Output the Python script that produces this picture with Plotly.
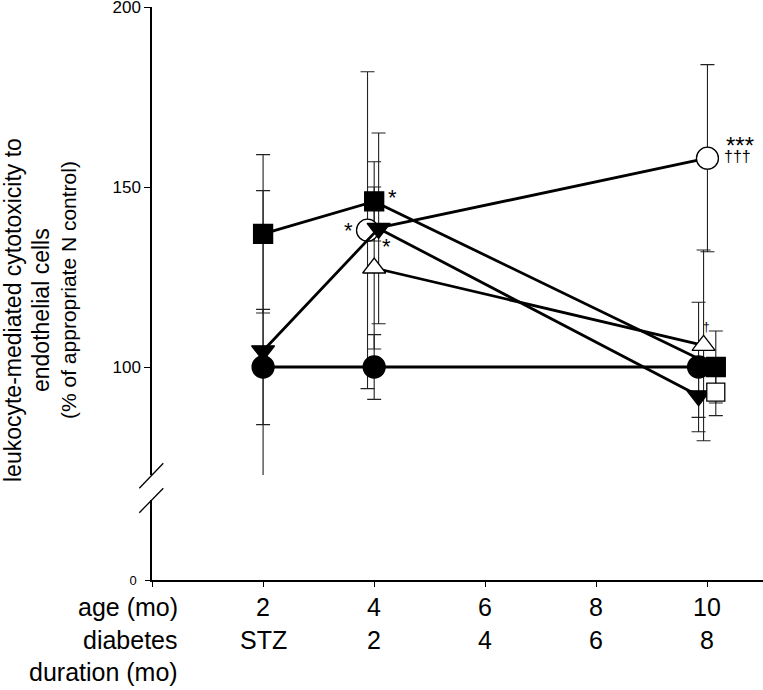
import plotly.graph_objects as go

# ---------------- data ----------------
ages = [2, 4, 10]
age_labels = ["2", "4", "6", "8", "10"]
age_ticks = [2, 4, 6, 8, 10]
duration_labels = ["STZ", "2", "4", "6", "8"]

# filled circle (N control)
nc_x = [2, 4, 10]
nc_y = [100, 100, 100]
nc_err = [16, 9, 18]
# filled square
fs_x = [2, 4, 10]
fs_y = [137, 146, 100]
fs_err = [22, 11, 10]
# filled triangle down
td_x = [2, 4, 10]
td_y = [104.5, 138.5, 92]
td_err = [44.5, 26.5, 6]
# open triangle up
tu_x = [4, 10]
tu_y = [127.5, 106]
tu_err = [22.5, 26.5]
# open circle
oc_x = [4, 10]
oc_y = [138, 158]
oc_err = [44, 26]
# open square
os_x = [10]
os_y = [93]
os_err = [6.5]

# ---------------- styles ----------------
FONT = "Liberation Sans, Arial, sans-serif"
W, H = 763, 690
ML, MR, MT, MB = 152, 0, 7, 110
PW, PH = W - ML - MR, H - MT - MB

# small horizontal offsets used in the original to separate overlapping symbols
offsets = {
    "nc": {2: 0, 4: 0, 10: -0.16},
    "fs": {2: 0, 4: 0, 10: 0.15},
    "td": {2: 0, 4: 0.08, 10: -0.16},
    "tu": {4: 0, 10: -0.07},
    "oc": {4: -0.12, 10: 0},
    "os": {10: 0.15},
}

series = [
    # key, x, y, err, symbol, fill, size
    ("oc", oc_x, oc_y, oc_err, "circle", "white", 22),
    ("nc", nc_x, nc_y, nc_err, "circle", "black", 22),
    ("fs", fs_x, fs_y, fs_err, "square", "black", 19),
    ("td", td_x, td_y, td_err, "triangle-down", "black", 20),
    ("tu", tu_x, tu_y, tu_err, "triangle-up", "white", 20),
    ("os", os_x, os_y, os_err, "square", "white", 18),
]


def px_to_px(px):
    return (px - ML) / PW


def py_to_py(py):
    return (H - MB - py) / PH


fig = go.Figure()

# invisible trace so that the lower (broken) axis segment exists
fig.add_trace(go.Scatter(x=[0], y=[0], xaxis="x", yaxis="y", mode="markers",
                         marker=dict(size=1, opacity=0), showlegend=False,
                         hoverinfo="skip"))

# error bars first (so markers sit on top)
for key, xs, ys, es, sym, fill, size in series:
    xx = [x + offsets[key][x] for x in xs]
    fig.add_trace(go.Scatter(
        x=xx, y=ys, mode="markers", yaxis="y2", xaxis="x",
        marker=dict(size=2, opacity=0),
        error_y=dict(type="data", array=es, symmetric=True, color="#222",
                     thickness=1.1, width=7),
        showlegend=False, hoverinfo="skip",
    ))

# lines + markers
for key, xs, ys, es, sym, fill, size in series:
    xx = [x + offsets[key][x] for x in xs]
    fig.add_trace(go.Scatter(
        x=xx, y=ys, mode="lines+markers", yaxis="y2", xaxis="x",
        line=dict(color="black", width=2.8),
        marker=dict(symbol=sym, size=size, color=fill,
                    line=dict(color="black", width=1.3)),
        showlegend=False,
    ))

annotations = []

# significance marks
def mark(text, key, xs, ys, i, dx, dy, size):
    x = xs[i] + offsets[key][xs[i]]
    annotations.append(dict(x=x, y=ys[i], xref="x", yref="y2", text=text,
                            showarrow=False, xshift=dx, yshift=dy,
                            font=dict(family=FONT, size=size, color="black")))

mark("*", "fs", fs_x, fs_y, 1, 18, 4, 22)
mark("*", "oc", oc_x, oc_y, 0, -19, 0, 22)
mark("*", "td", td_x, td_y, 1, 8, -18, 22)
mark("***", "oc", oc_x, oc_y, 1, 33, 13, 24)
mark("†††", "oc", oc_x, oc_y, 1, 30, 2, 16)
mark("†", "tu", tu_x, tu_y, 1, 3, 18, 12)

# x-axis row labels
row_y = [607, 640, 672]
for v, lab in zip(age_ticks, age_labels):
    annotations.append(dict(x=v, y=py_to_py(row_y[0]), xref="x", yref="paper",
                            text=lab, showarrow=False, yanchor="middle",
                            font=dict(family=FONT, size=25, color="black")))
for v, lab in zip(age_ticks, duration_labels):
    annotations.append(dict(x=v, y=py_to_py(row_y[1]), xref="x", yref="paper",
                            text=lab, showarrow=False, yanchor="middle",
                            font=dict(family=FONT, size=25, color="black")))
for txt, ry in [("age (mo)", row_y[0]), ("diabetes", row_y[1]), ("duration (mo)", row_y[2])]:
    annotations.append(dict(x=px_to_px(180), y=py_to_py(ry), xref="paper", yref="paper",
                            text=txt, showarrow=False, xanchor="right", yanchor="middle",
                            font=dict(family=FONT, size=25, color="black")))

# y-axis title (three lines)
for txt, xpx, ypx, fs in [
    ("leukocyte-mediated cytotoxicity to", 13, 310, 23),
    ("endothelial cells", 41, 310, 23),
    ("(% of appropriate N control)", 69, 290, 21),
]:
    annotations.append(dict(x=px_to_px(xpx), y=py_to_py(ypx), xref="paper", yref="paper",
                            text=txt, showarrow=False, textangle=-90,
                            xanchor="center", yanchor="middle",
                            font=dict(family=FONT, size=fs, color="black")))

# axis-break slashes
shapes = []
for (x0, y0, x1, y1) in [(139.3, 488.3, 163.3, 463.3), (139.3, 512.7, 163.3, 488.3)]:
    shapes.append(dict(type="line", xref="paper", yref="paper",
                       x0=px_to_px(x0), y0=py_to_py(y0), x1=px_to_px(x1), y1=py_to_py(y1),
                       line=dict(color="black", width=1.3)))

upper_bottom = py_to_py(475)
lower_top = py_to_py(499.5)

fig.update_layout(
    width=W, height=H,
    margin=dict(l=ML, r=MR, t=MT, b=MB, autoexpand=False),
    paper_bgcolor="white", plot_bgcolor="white",
    showlegend=False,
    font=dict(family=FONT, color="black"),
    xaxis=dict(range=[0, 11], domain=[0, 1], anchor="y",
               tickvals=[0] + age_ticks, showticklabels=False,
               ticks="outside", ticklen=5, tickwidth=1.3, tickcolor="black",
               showline=True, linecolor="black", linewidth=1.5,
               showgrid=False, zeroline=False, automargin=False),
    yaxis=dict(range=[0, 22.4], domain=[0, lower_top], anchor="x",
               tickvals=[0], ticktext=["0"], tickfont=dict(size=13),
               ticklabeloverflow="allow", ticklabelstandoff=6,
               ticks="outside", ticklen=5, tickwidth=1.3, tickcolor="black",
               showline=True, linecolor="black", linewidth=1.5,
               showgrid=False, zeroline=False, automargin=False),
    yaxis2=dict(range=[70, 200], domain=[upper_bottom, 1], anchor="x",
                tickvals=[100, 150, 200], tickfont=dict(size=17),
                ticklabeloverflow="allow",
                ticks="outside", ticklen=6, tickwidth=1.3, tickcolor="black",
                showline=True, linecolor="black", linewidth=1.5,
                showgrid=False, zeroline=False, automargin=False),
    annotations=annotations,
    shapes=shapes,
)

fig.write_html("out.html", config={"displayModeBar": False},
               post_script="document.body.style.margin='0';document.body.style.padding='0';")
